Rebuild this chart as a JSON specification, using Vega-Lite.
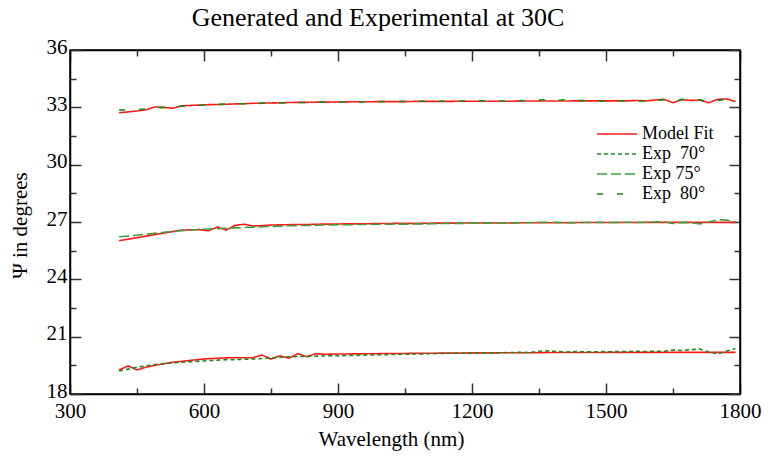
{
  "$schema": "https://vega.github.io/schema/vega-lite/v6.json",
  "width": 670,
  "height": 344,
  "autosize": {"type": "none"},
  "padding": {"left": 70, "top": 50, "right": 28, "bottom": 64},
  "background": "white",
  "title": {
    "text": "Generated and Experimental at 30C",
    "font": "Liberation Serif",
    "fontSize": 26,
    "fontWeight": "normal",
    "color": "black",
    "anchor": "middle",
    "frame": "group",
    "baseline": "alphabetic",
    "offset": 12,
    "dy": 28,
    "dx": -27
  },
  "config": {
    "view": {"stroke": "black", "strokeWidth": 1.5},
    "axis": {
      "grid": false,
      "labelFont": "Liberation Serif",
      "labelFontSize": 21,
      "labelColor": "black",
      "titleFont": "Liberation Serif",
      "titleFontSize": 21,
      "titleFontWeight": "normal",
      "titleColor": "black",
      "domainColor": "black",
      "domainWidth": 1.5,
      "tickColor": "#333333",
      "tickWidth": 1.5
    },
    "legend": {
      "orient": "none",
      "legendX": 536,
      "legendY": 73,
      "padding": 0,
      "labelFont": "Liberation Serif",
      "labelFontSize": 18,
      "labelColor": "black",
      "symbolType": "M-2,0H2",
      "symbolSize": 400,
      "symbolStrokeWidth": 1.5,
      "labelOffset": 14,
      "rowPadding": 0
    }
  },
  "data": {
    "values": [
      {"w":410,"m70":19.26,"e70":19.20,"m75":26.02,"e75":26.23,"m80":32.72,"e80":32.86},
      {"w":430,"m70":19.47,"e70":19.30,"m75":26.10,"e75":26.27,"m80":32.76,"e80":32.86},
      {"w":450,"m70":19.26,"e70":19.40,"m75":26.18,"e75":26.31,"m80":32.81,"e80":32.88},
      {"w":470,"m70":19.40,"e70":19.47,"m75":26.26,"e75":26.36,"m80":32.87,"e80":32.92},
      {"w":490,"m70":19.50,"e70":19.54,"m75":26.34,"e75":26.41,"m80":33.02,"e80":32.97},
      {"w":510,"m70":19.58,"e70":19.59,"m75":26.42,"e75":26.46,"m80":32.99,"e80":33.00},
      {"w":530,"m70":19.66,"e70":19.63,"m75":26.50,"e75":26.51,"m80":32.96,"e80":33.03},
      {"w":550,"m70":19.71,"e70":19.66,"m75":26.58,"e75":26.55,"m80":33.08,"e80":33.06},
      {"w":570,"m70":19.76,"e70":19.69,"m75":26.59,"e75":26.58,"m80":33.10,"e80":33.09},
      {"w":590,"m70":19.81,"e70":19.72,"m75":26.60,"e75":26.61,"m80":33.12,"e80":33.11},
      {"w":610,"m70":19.85,"e70":19.75,"m75":26.54,"e75":26.63,"m80":33.14,"e80":33.13},
      {"w":630,"m70":19.87,"e70":19.77,"m75":26.74,"e75":26.65,"m80":33.15,"e80":33.15},
      {"w":650,"m70":19.89,"e70":19.79,"m75":26.58,"e75":26.67,"m80":33.16,"e80":33.17},
      {"w":670,"m70":19.90,"e70":19.80,"m75":26.83,"e75":26.69,"m80":33.18,"e80":33.18},
      {"w":690,"m70":19.90,"e70":19.82,"m75":26.88,"e75":26.71,"m80":33.19,"e80":33.19},
      {"w":710,"m70":19.90,"e70":19.83,"m75":26.79,"e75":26.73,"m80":33.21,"e80":33.20},
      {"w":730,"m70":20.04,"e70":19.86,"m75":26.81,"e75":26.75,"m80":33.22,"e80":33.21},
      {"w":750,"m70":19.83,"e70":19.89,"m75":26.84,"e75":26.77,"m80":33.23,"e80":33.22},
      {"w":770,"m70":20.00,"e70":19.92,"m75":26.85,"e75":26.78,"m80":33.24,"e80":33.23},
      {"w":790,"m70":19.87,"e70":19.95,"m75":26.86,"e75":26.80,"m80":33.25,"e80":33.24},
      {"w":810,"m70":20.11,"e70":19.96,"m75":26.87,"e75":26.81,"m80":33.26,"e80":33.25},
      {"w":830,"m70":19.95,"e70":19.97,"m75":26.87,"e75":26.82,"m80":33.26,"e80":33.26},
      {"w":850,"m70":20.11,"e70":19.98,"m75":26.88,"e75":26.83,"m80":33.27,"e80":33.27},
      {"w":870,"m70":20.08,"e70":19.99,"m75":26.89,"e75":26.84,"m80":33.27,"e80":33.27},
      {"w":890,"m70":20.09,"e70":20.00,"m75":26.89,"e75":26.85,"m80":33.28,"e80":33.28},
      {"w":910,"m70":20.09,"e70":20.01,"m75":26.90,"e75":26.86,"m80":33.28,"e80":33.28},
      {"w":930,"m70":20.10,"e70":20.02,"m75":26.90,"e75":26.86,"m80":33.29,"e80":33.29},
      {"w":950,"m70":20.10,"e70":20.03,"m75":26.91,"e75":26.87,"m80":33.29,"e80":33.28},
      {"w":970,"m70":20.11,"e70":20.04,"m75":26.91,"e75":26.87,"m80":33.29,"e80":33.30},
      {"w":990,"m70":20.11,"e70":20.05,"m75":26.92,"e75":26.88,"m80":33.30,"e80":33.30},
      {"w":1010,"m70":20.12,"e70":20.06,"m75":26.92,"e75":26.88,"m80":33.30,"e80":33.31},
      {"w":1030,"m70":20.12,"e70":20.07,"m75":26.93,"e75":26.89,"m80":33.30,"e80":33.30},
      {"w":1050,"m70":20.12,"e70":20.08,"m75":26.93,"e75":26.89,"m80":33.30,"e80":33.31},
      {"w":1070,"m70":20.13,"e70":20.09,"m75":26.93,"e75":26.90,"m80":33.31,"e80":33.31},
      {"w":1090,"m70":20.13,"e70":20.10,"m75":26.93,"e75":26.90,"m80":33.31,"e80":33.32},
      {"w":1110,"m70":20.13,"e70":20.11,"m75":26.94,"e75":26.91,"m80":33.31,"e80":33.31},
      {"w":1130,"m70":20.14,"e70":20.12,"m75":26.94,"e75":26.92,"m80":33.31,"e80":33.32},
      {"w":1150,"m70":20.14,"e70":20.13,"m75":26.94,"e75":26.92,"m80":33.31,"e80":33.32},
      {"w":1170,"m70":20.14,"e70":20.13,"m75":26.94,"e75":26.93,"m80":33.32,"e80":33.33},
      {"w":1190,"m70":20.15,"e70":20.14,"m75":26.95,"e75":26.93,"m80":33.32,"e80":33.32},
      {"w":1210,"m70":20.15,"e70":20.14,"m75":26.95,"e75":26.94,"m80":33.32,"e80":33.34},
      {"w":1230,"m70":20.15,"e70":20.15,"m75":26.95,"e75":26.94,"m80":33.32,"e80":33.33},
      {"w":1250,"m70":20.15,"e70":20.15,"m75":26.95,"e75":26.95,"m80":33.32,"e80":33.34},
      {"w":1270,"m70":20.16,"e70":20.16,"m75":26.95,"e75":26.95,"m80":33.32,"e80":33.33},
      {"w":1290,"m70":20.16,"e70":20.17,"m75":26.95,"e75":26.96,"m80":33.32,"e80":33.33},
      {"w":1310,"m70":20.16,"e70":20.18,"m75":26.96,"e75":26.96,"m80":33.33,"e80":33.35},
      {"w":1330,"m70":20.16,"e70":20.17,"m75":26.96,"e75":26.97,"m80":33.33,"e80":33.34},
      {"w":1350,"m70":20.16,"e70":20.24,"m75":26.96,"e75":26.98,"m80":33.33,"e80":33.38},
      {"w":1370,"m70":20.17,"e70":20.26,"m75":26.96,"e75":26.99,"m80":33.33,"e80":33.40},
      {"w":1390,"m70":20.17,"e70":20.22,"m75":26.96,"e75":26.98,"m80":33.33,"e80":33.36},
      {"w":1410,"m70":20.17,"e70":20.20,"m75":26.96,"e75":26.97,"m80":33.33,"e80":33.40},
      {"w":1430,"m70":20.17,"e70":20.22,"m75":26.97,"e75":26.96,"m80":33.34,"e80":33.38},
      {"w":1450,"m70":20.17,"e70":20.21,"m75":26.97,"e75":26.97,"m80":33.34,"e80":33.35},
      {"w":1470,"m70":20.17,"e70":20.20,"m75":26.97,"e75":26.98,"m80":33.34,"e80":33.33},
      {"w":1490,"m70":20.17,"e70":20.22,"m75":26.97,"e75":26.98,"m80":33.34,"e80":33.32},
      {"w":1510,"m70":20.18,"e70":20.21,"m75":26.97,"e75":26.97,"m80":33.34,"e80":33.33},
      {"w":1530,"m70":20.18,"e70":20.22,"m75":26.97,"e75":26.98,"m80":33.34,"e80":33.34},
      {"w":1550,"m70":20.18,"e70":20.22,"m75":26.97,"e75":26.99,"m80":33.34,"e80":33.35},
      {"w":1570,"m70":20.18,"e70":20.24,"m75":26.97,"e75":26.98,"m80":33.36,"e80":33.32},
      {"w":1590,"m70":20.18,"e70":20.22,"m75":26.98,"e75":26.99,"m80":33.34,"e80":33.33},
      {"w":1610,"m70":20.18,"e70":20.24,"m75":26.98,"e75":27.00,"m80":33.38,"e80":33.36},
      {"w":1630,"m70":20.18,"e70":20.23,"m75":26.98,"e75":27.01,"m80":33.42,"e80":33.40},
      {"w":1650,"m70":20.18,"e70":20.30,"m75":26.98,"e75":26.92,"m80":33.24,"e80":33.30},
      {"w":1670,"m70":20.18,"e70":20.28,"m75":26.98,"e75":26.98,"m80":33.40,"e80":33.42},
      {"w":1690,"m70":20.18,"e70":20.32,"m75":26.98,"e75":26.96,"m80":33.36,"e80":33.38},
      {"w":1710,"m70":20.18,"e70":20.35,"m75":26.98,"e75":26.90,"m80":33.38,"e80":33.40},
      {"w":1730,"m70":20.18,"e70":20.20,"m75":26.98,"e75":27.00,"m80":33.24,"e80":33.28},
      {"w":1750,"m70":20.18,"e70":20.10,"m75":26.98,"e75":27.12,"m80":33.42,"e80":33.36},
      {"w":1770,"m70":20.18,"e70":20.25,"m75":26.98,"e75":27.10,"m80":33.44,"e80":33.42},
      {"w":1790,"m70":20.18,"e70":20.38,"m75":26.98,"e75":27.00,"m80":33.30,"e80":33.28}
    ]
  },
  "transform": [
    {"fold": ["m70", "m75", "m80", "e70", "e75", "e80"], "as": ["key", "psi"]},
    {
      "lookup": "key",
      "from": {
        "data": {
          "values": [
            {"key": "m70", "s": "Model Fit"},
            {"key": "m75", "s": "Model Fit"},
            {"key": "m80", "s": "Model Fit"},
            {"key": "e70", "s": "Exp\u00a0 70°"},
            {"key": "e75", "s": "Exp 75°"},
            {"key": "e80", "s": "Exp\u00a0 80°"}
          ]
        },
        "key": "key",
        "fields": ["s"]
      }
    }
  ],
  "layer": [
    {
      "mark": {"type": "line", "strokeWidth": 1.6},
      "encoding": {
        "x": {
          "field": "w", "type": "quantitative",
          "scale": {"domain": [300, 1800], "nice": false},
          "axis": {
            "orient": "bottom",
            "title": "Wavelength (nm)",
            "titleX": 321,
            "titleY": 51,
            "titleBaseline": "alphabetic",
            "titleAnchor": "middle",
            "values": [300, 450, 600, 750, 900, 1050, 1200, 1350, 1500, 1650, 1800],
            "format": "d",
            "labelExpr": "datum.value % 300 === 0 ? datum.label : ''",
            "labelFlush": false,
            "labelOverlap": false,
            "labelPadding": 17,
            "labelBaseline": "top",
            "tickSize": {"condition": {"test": "datum.value % 300 === 0", "value": -11}, "value": -6}
          }
        },
        "y": {
          "field": "psi", "type": "quantitative",
          "scale": {"domain": [18, 36], "nice": false, "zero": false},
          "axis": {
            "orient": "left",
            "title": "Ψ in degrees",
            "titleX": -50,
            "titleY": 175,
            "titleAngle": -90,
            "titleBaseline": "middle",
            "titleAnchor": "middle",
            "values": [18, 19.5, 21, 22.5, 24, 25.5, 27, 28.5, 30, 31.5, 33, 34.5, 36],
            "labelExpr": "datum.value % 3 === 0 ? datum.label : ''",
            "labelFlush": false,
            "labelOverlap": false,
            "labelPadding": 14,
            "labelOffset": -3,
            "tickSize": {"condition": {"test": "datum.value % 3 === 0", "value": -11}, "value": -6}
          }
        },
        "color": {
          "field": "s", "type": "nominal",
          "scale": {
            "domain": ["Model Fit", "Exp\u00a0 70°", "Exp 75°", "Exp\u00a0 80°"],
            "range": ["#ff1a1a", "#1f8a1f", "#3c9e3c", "#0a8f0a"]
          },
          "legend": {"title": null, "labelFont": "Liberation Serif", "labelFontSize": 18}
        },
        "strokeDash": {
          "field": "s", "type": "nominal",
          "scale": {
            "domain": ["Model Fit", "Exp\u00a0 70°", "Exp 75°", "Exp\u00a0 80°"],
            "range": [[1, 0], [4, 3], [10, 4], [6, 14]]
          },
          "legend": {"title": null, "labelFont": "Liberation Serif", "labelFontSize": 18}
        },
        "detail": {"field": "key"}
      }
    },
    {
      "mark": {"type": "line", "strokeOpacity": 0},
      "encoding": {
        "x": {
          "field": "w", "type": "quantitative",
          "axis": {
            "orient": "top",
            "title": null,
            "labels": false,
            "values": [300, 450, 600, 750, 900, 1050, 1200, 1350, 1500, 1650, 1800],
            "tickSize": {"condition": {"test": "datum.value % 300 === 0", "value": -11}, "value": -6}
          }
        },
        "y": {
          "field": "psi", "type": "quantitative",
          "axis": {
            "orient": "right",
            "title": null,
            "labels": false,
            "values": [18, 19.5, 21, 22.5, 24, 25.5, 27, 28.5, 30, 31.5, 33, 34.5, 36],
            "tickSize": {"condition": {"test": "datum.value % 3 === 0", "value": -11}, "value": -6}
          }
        },
        "detail": {"field": "key"}
      }
    }
  ],
  "resolve": {"axis": {"x": "independent", "y": "independent"}}
}
